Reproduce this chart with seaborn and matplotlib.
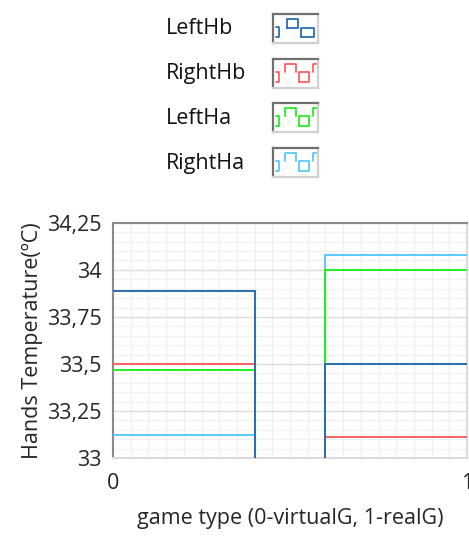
import numpy as np
import pandas as pd
import matplotlib
matplotlib.use("Agg")
import matplotlib.pyplot as plt
from matplotlib.ticker import FuncFormatter, MultipleLocator
import seaborn as sns

# data
series = ["LeftHb", "RightHb", "LeftHa", "RightHa"]
colors = ["#2a6db0", "#ff6060", "#22ee22", "#5cc8ff"]
game_type = [0, 1]
left_hb = [33.89, 33.50]
right_hb = [33.50, 33.11]
left_ha = [33.47, 34.00]
right_ha = [33.12, 34.08]

values = {"LeftHb": left_hb, "RightHb": right_hb, "LeftHa": left_ha, "RightHa": right_ha}
df = pd.DataFrame(
    [(s, g, v) for s in series for g, v in zip(game_type, values[s])],
    columns=["series", "game", "temp"],
)

sns.set_style("white")
plt.rcParams["font.family"] = ["Open Sans", "DejaVu Sans"]
FS = 15.5

fig = plt.figure(figsize=(4.69, 5.37), dpi=100)
ax = fig.add_axes([0.241, 0.147, 0.755, 0.438])

# draw back-to-front so LeftHb ends on top
order = series[::-1]
sns.barplot(
    data=df, x="game", y="temp", hue="series", hue_order=order,
    palette=dict(zip(series, colors)), dodge=False, fill=False,
    native_scale=True, width=0.8, errorbar=None, linewidth=1.4,
    legend=False, ax=ax, zorder=3,
)

ax.set_xlim(0, 1)
ax.set_ylim(33, 34.25)
ax.yaxis.set_major_locator(MultipleLocator(0.25))
ax.yaxis.set_minor_locator(MultipleLocator(0.05))
ax.set_xticks([0, 1])
ax.xaxis.set_minor_locator(MultipleLocator(0.05))
ax.yaxis.set_major_formatter(FuncFormatter(lambda v, p: f"{v:g}".replace(".", ",")))
ax.xaxis.set_major_formatter(FuncFormatter(lambda v, p: f"{v:g}"))

ax.grid(which="major", axis="y", color="#dddddd", linewidth=1.0, zorder=0)
ax.grid(which="minor", color="#f0f0f0", linewidth=1.0, zorder=0)
ax.set_axisbelow(True)

ax.tick_params(axis="y", which="major", direction="out", length=5, width=1,
               color="#333333", labelsize=FS, pad=3)
ax.tick_params(axis="x", which="major", direction="out", length=5, width=1,
               color="#333333", labelsize=FS, pad=6)
ax.tick_params(which="minor", length=0)

for side, col in [("left", "#8a8a8a"), ("top", "#8a8a8a"),
                  ("right", "#dcdcdc"), ("bottom", "#dcdcdc")]:
    ax.spines[side].set_color(col)
    ax.spines[side].set_linewidth(1.5)

ax.set_xlabel("game type (0-virtualG, 1-realG)", fontsize=FS, labelpad=10)
ax.set_ylabel("Hands Temperature(ºC)", fontsize=FS, labelpad=3)

# custom legend at the top: label plus a small bar-outline icon box
row_y = [29, 74, 118, 163]
for i, (name, col, yc) in enumerate(zip(series, colors, row_y)):
    fy = 1 - yc / 537
    fig.text(166 / 469, fy, name, fontsize=FS, va="center", ha="left", color="#111111")
    iax = fig.add_axes([273 / 469, fy - 14 / 537, 45 / 469, 29 / 537])
    iax.set_xlim(0, 1)
    iax.set_ylim(0, 1)
    iax.set_xticks([])
    iax.set_yticks([])
    iax.set_facecolor("white")
    for side, c in [("left", "#707070"), ("top", "#707070"),
                    ("right", "#d0d0d0"), ("bottom", "#d0d0d0")]:
        iax.spines[side].set_color(c)
        iax.spines[side].set_linewidth(1.6)
    kw = dict(color=col, linewidth=1.3)
    # "]" piece at the left
    iax.plot([0.06, 0.14, 0.14, 0.06], [0.55, 0.55, 0.2, 0.2], **kw)
    if i == 0:
        iax.plot([0.30, 0.30, 0.56, 0.56, 0.30], [0.52, 0.82, 0.82, 0.52, 0.52], **kw)
        iax.plot([0.62, 0.62, 0.90, 0.90, 0.62], [0.2, 0.52, 0.52, 0.2, 0.2], **kw)
    else:
        iax.plot([0.27, 0.27, 0.50, 0.50], [0.55, 0.82, 0.82, 0.55], **kw)
        iax.plot([0.58, 0.58, 0.80, 0.80, 0.58], [0.2, 0.55, 0.55, 0.2, 0.2], **kw)
        iax.plot([0.97, 0.88, 0.88], [0.82, 0.82, 0.55], **kw)

fig.savefig("out.png", dpi=100)
